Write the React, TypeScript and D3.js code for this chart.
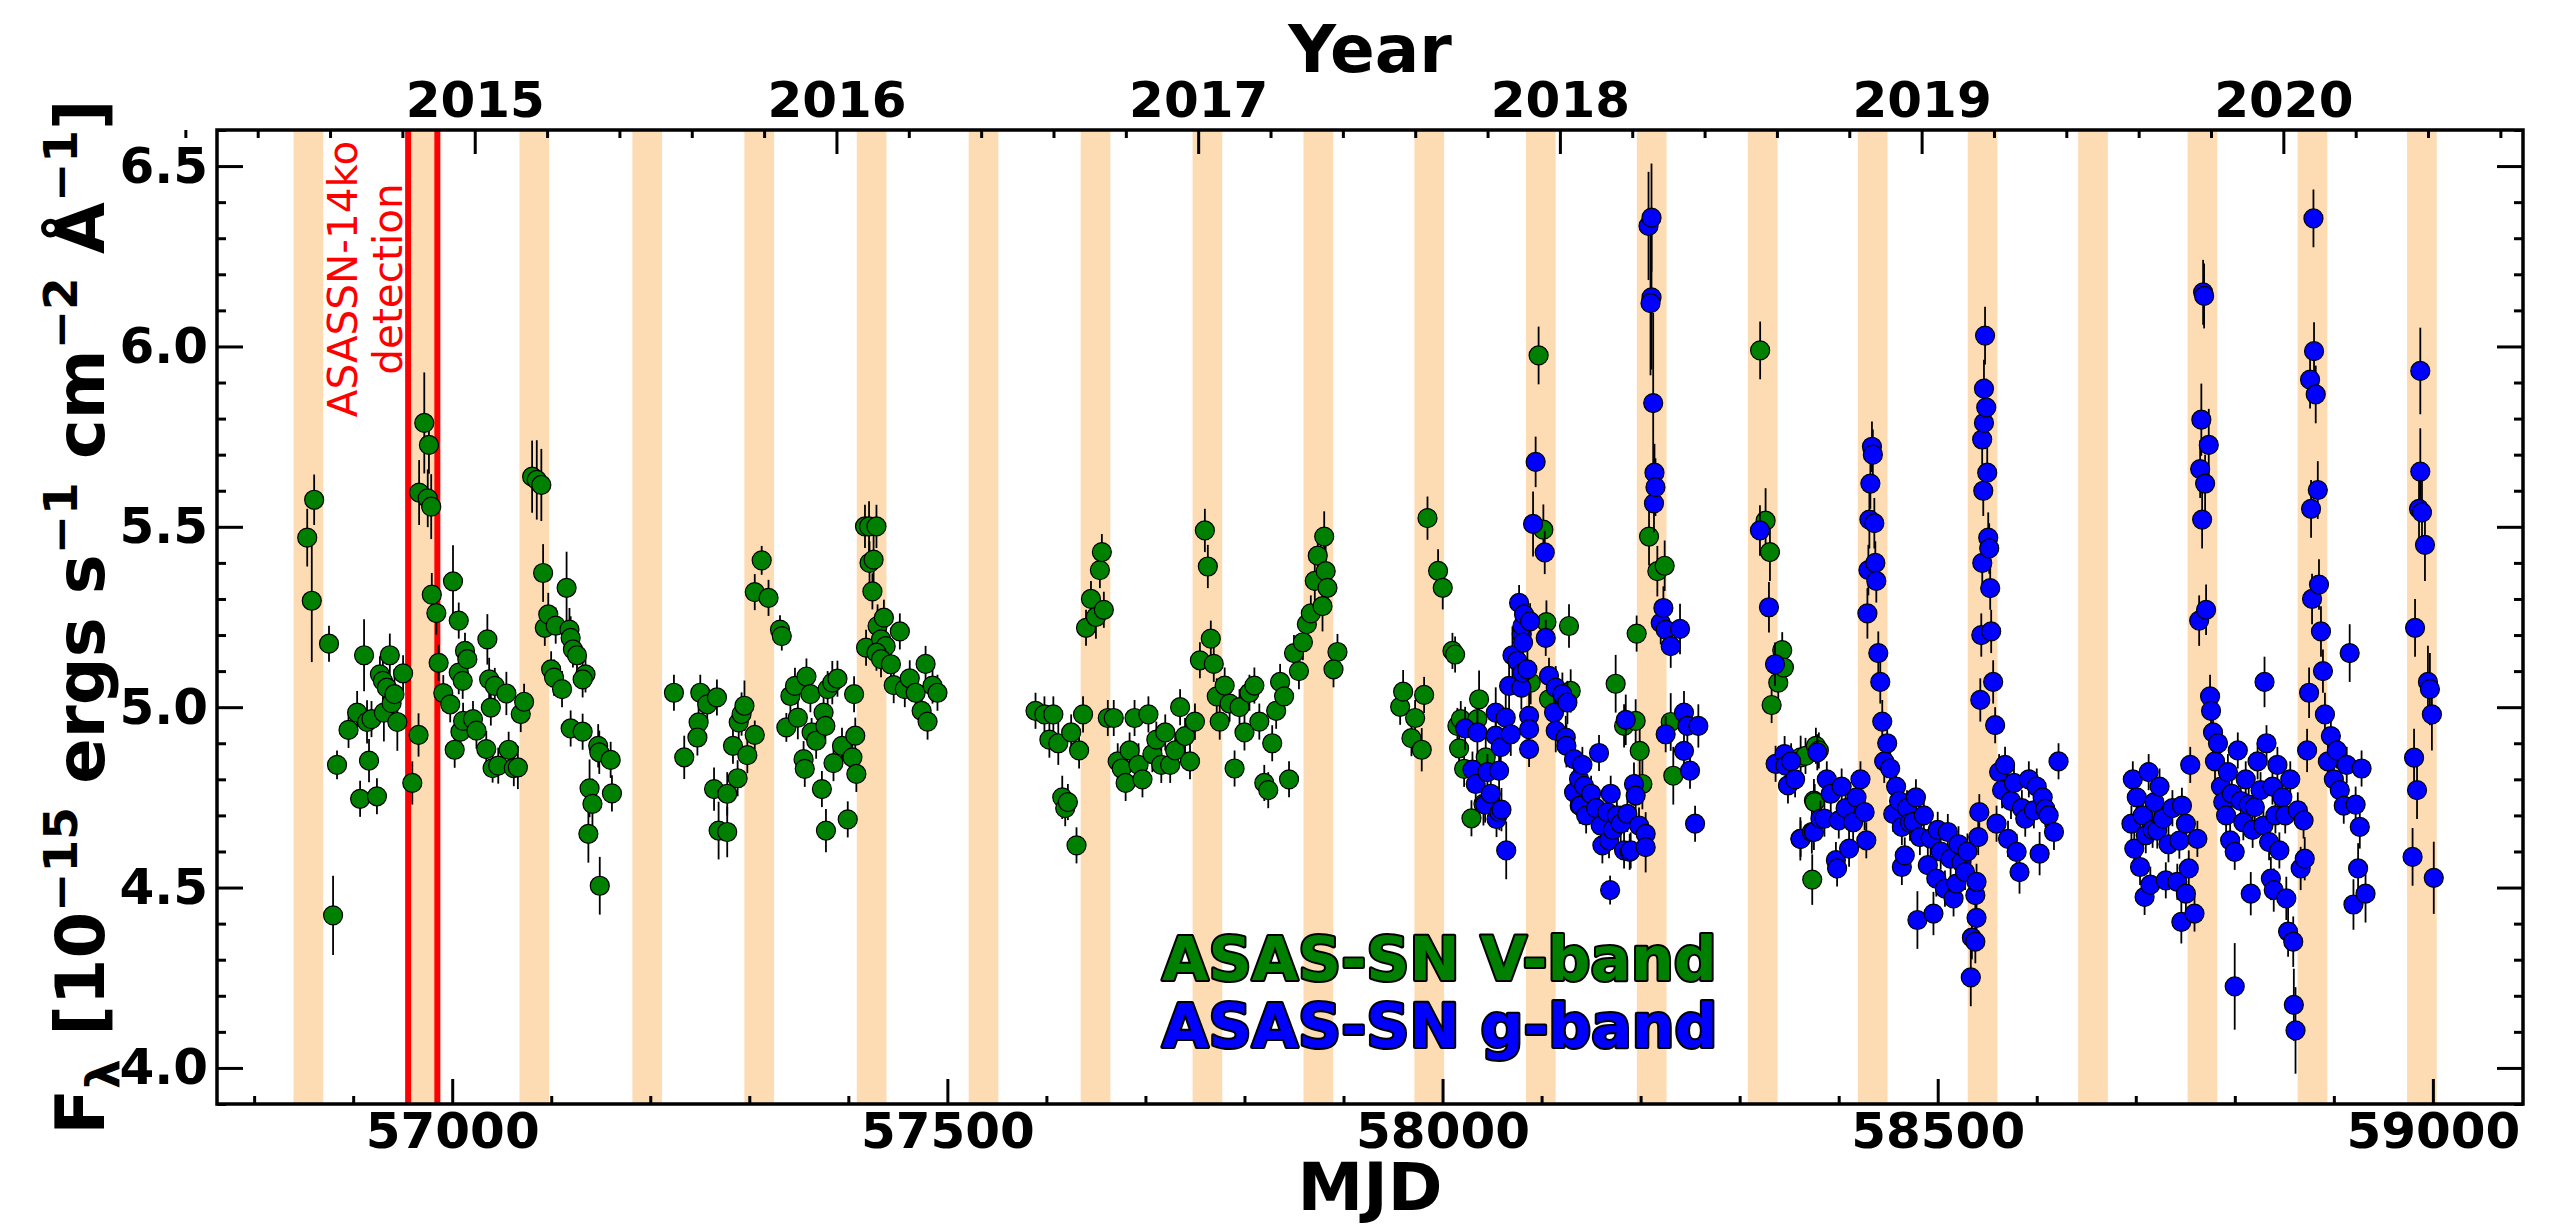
import React, { useRef, useEffect } from "react";
import * as d3 from "d3";

const W = 2566;
const H = 1226;
const plot = { left: 217, right: 2523, top: 130, bottom: 1104 };

// axis ranges
const mjdRange = [56762.5, 59091];
const fluxRange = [3.9, 6.6];

const mjdMajor = [57000, 57500, 58000, 58500, 59000];
const fluxMajor = [4.0, 4.5, 5.0, 5.5, 6.0, 6.5];
const years = [2015, 2016, 2017, 2018, 2019, 2020];

// shaded windows (predicted outbursts), centre MJD
const bandCenters = [
	56854.8, 56968.8, 57082.9, 57196.9, 57310.0, 57423.5, 57536.5, 57649.6, 57762.6, 57874.6,
	57986.6, 58099.2, 58211.2, 58323.3, 58434.3, 58545.3, 58656.8, 58767.3, 58878.4, 58988.9,
];
const bandWidth = 30;

// ASASSN-14ko detection window
const detectionLines = [56955.5, 56985];

// [MJD, flux, error]
const vBand: [number, number, number][] = [
	[56853.6, 5.47, 0.08], [56860.6, 5.575, 0.07], [56858.2, 5.295, 0.17], [56875.6, 5.176, 0.05],
	[56879.7, 4.423, 0.11], [56883.7, 4.84, 0.04], [56895.3, 4.937, 0.05], [56904, 4.985, 0.06],
	[56907, 4.746, 0.05], [56911, 5.144, 0.1], [56914, 4.959, 0.06], [56916, 4.852, 0.06],
	[56918.5, 4.967, 0.05], [56924, 4.753, 0.05], [56927, 5.091, 0.05], [56930, 5.073, 0.06],
	[56931, 4.985, 0.08], [56934, 5.054, 0.05], [56937, 5.144, 0.06], [56938.8, 5.011, 0.07],
	[56941.7, 5.036, 0.07], [56944.6, 4.959, 0.08], [56950.4, 5.094, 0.05], [56959.7, 4.79, 0.06],
	[56966, 4.923, 0.06], [56966.6, 5.595, 0.09], [56971.8, 5.788, 0.14], [56975.3, 5.579, 0.08],
	[56976.5, 5.727, 0.08], [56978.8, 5.556, 0.09], [56979.4, 5.312, 0.06], [56984, 5.261, 0.06],
	[56986.3, 5.123, 0.05], [56991, 5.039, 0.05], [56998, 5.008, 0.05], [57000.8, 5.349, 0.1],
	[57002.5, 4.882, 0.05], [57006.6, 5.24, 0.05], [57008.3, 4.932, 0.05], [57006.6, 5.096, 0.06],
	[57010.6, 5.073, 0.05], [57012.9, 5.156, 0.05], [57015.3, 5.133, 0.05], [57011, 4.962, 0.05],
	[57021, 4.967, 0.05], [57024.5, 4.935, 0.05], [57034.4, 4.884, 0.05], [57035.5, 5.188, 0.07],
	[57037.3, 5.077, 0.06], [57039, 4.999, 0.05], [57040.8, 4.831, 0.04], [57043, 5.059, 0.05],
	[57046.5, 4.838, 0.05], [57054.7, 5.038, 0.06], [57057, 4.882, 0.05], [57062.2, 4.831, 0.05],
	[57066.3, 4.833, 0.06], [57069.2, 4.981, 0.05], [57072.6, 5.015, 0.05], [57080.7, 5.639, 0.1],
	[57085.4, 5.63, 0.11], [57090, 5.616, 0.1], [57091.8, 5.372, 0.08], [57093.5, 5.22, 0.05],
	[57097, 5.257, 0.06], [57099.9, 5.105, 0.05], [57102.8, 5.082, 0.05], [57104.5, 5.226, 0.05],
	[57110.9, 5.05, 0.05], [57115.5, 5.331, 0.1], [57118.4, 5.215, 0.06], [57119.6, 5.192, 0.06],
	[57121.9, 5.16, 0.05], [57126, 5.144, 0.05], [57119.6, 4.941, 0.05], [57131.7, 4.932, 0.05],
	[57134.6, 5.091, 0.05], [57131.7, 5.077, 0.05], [57147.4, 4.893, 0.06], [57148.5, 4.875, 0.06],
	[57138.7, 4.775, 0.08], [57141.6, 4.732, 0.07], [57137.5, 4.649, 0.08], [57160, 4.854, 0.05],
	[57161.3, 4.761, 0.05], [57149, 4.505, 0.08],
	[57223.9, 5.04, 0.05], [57234.3, 4.861, 0.06], [57248.8, 4.958, 0.06], [57250.5, 5.04, 0.05],
	[57247.6, 4.916, 0.05], [57257.5, 5.008, 0.05], [57267.3, 5.027, 0.05], [57264.4, 4.773, 0.06],
	[57269, 4.658, 0.08], [57277.7, 4.654, 0.07], [57277.7, 4.76, 0.06], [57283.5, 4.893, 0.05],
	[57288.2, 4.803, 0.05], [57289.3, 4.958, 0.05], [57292.2, 4.981, 0.06], [57295.1, 5.004, 0.07],
	[57298, 4.867, 0.05], [57305.5, 4.923, 0.04], [57305.5, 5.319, 0.05], [57312.5, 5.407, 0.04],
	[57319.4, 5.303, 0.05], [57331, 5.215, 0.04], [57332.8, 5.197, 0.04], [57337.4, 4.944, 0.04],
	[57341.5, 5.031, 0.05], [57346.1, 5.059, 0.05], [57349, 4.971, 0.06], [57354.8, 4.856, 0.05],
	[57357.7, 5.085, 0.05], [57356, 4.829, 0.05], [57361.7, 5.036, 0.05], [57362.9, 4.93, 0.04],
	[57367.5, 4.907, 0.05], [57373.3, 4.773, 0.05], [57375, 4.985, 0.06], [57376.8, 4.948, 0.05],
	[57377.4, 4.658, 0.06], [57379.1, 5.05, 0.05], [57383.8, 5.068, 0.06], [57385, 4.845, 0.05],
	[57389, 5.079, 0.05], [57393.6, 4.893, 0.05], [57399.4, 4.689, 0.05], [57404.1, 4.861, 0.05],
	[57405.8, 5.036, 0.05], [57408.1, 4.815, 0.05], [57407, 4.921, 0.05], [57416.8, 5.501, 0.06],
	[57420.9, 5.501, 0.07], [57428.4, 5.501, 0.06], [57421.4, 5.4, 0.06], [57425.5, 5.409, 0.07],
	[57424.3, 5.321, 0.05], [57417.9, 5.165, 0.05], [57429.5, 5.225, 0.06], [57435.9, 5.248, 0.05],
	[57433, 5.188, 0.06], [57437.7, 5.169, 0.06], [57428.4, 5.151, 0.05], [57433, 5.133, 0.05],
	[57443, 5.119, 0.05], [57445.8, 5.061, 0.05], [57452, 5.21, 0.05], [57457, 5.05, 0.05],
	[57462, 5.08, 0.05], [57468, 5.04, 0.04], [57474, 4.99, 0.05], [57478, 5.12, 0.05],
	[57480, 4.96, 0.05], [57485, 5.06, 0.05], [57490, 5.04, 0.05],
	[57589, 4.99, 0.05], [57598, 4.98, 0.05], [57603, 4.91, 0.05], [57607, 4.98, 0.05],
	[57612, 4.9, 0.06], [57616, 4.75, 0.06], [57619, 4.72, 0.05], [57621.7, 4.737, 0.05],
	[57630.4, 4.617, 0.05], [57625, 4.93, 0.05], [57633, 4.88, 0.05], [57637, 4.98, 0.05],
	[57640, 5.22, 0.05], [57645, 5.3, 0.05], [57650, 5.25, 0.06], [57654, 5.38, 0.05],
	[57656, 5.43, 0.05], [57658, 5.27, 0.05], [57662, 4.97, 0.05], [57668, 4.97, 0.05],
	[57672, 4.85, 0.05], [57676, 4.83, 0.05], [57680, 4.79, 0.05], [57684, 4.88, 0.05],
	[57689, 4.97, 0.05], [57693, 4.84, 0.06], [57697, 4.8, 0.05], [57703, 4.98, 0.05],
	[57707, 4.87, 0.05], [57711, 4.91, 0.05], [57716, 4.84, 0.05], [57720, 4.93, 0.05],
	[57725, 4.84, 0.05], [57730, 4.88, 0.05], [57735, 5.0, 0.05], [57740, 4.92, 0.05],
	[57745, 4.85, 0.05], [57750, 4.96, 0.05], [57755, 5.13, 0.05], [57760, 5.49, 0.06],
	[57763, 5.39, 0.06], [57766, 5.19, 0.05], [57769, 5.12, 0.05], [57772, 5.03, 0.05],
	[57775, 4.96, 0.05], [57780, 5.06, 0.05], [57785, 5.01, 0.05], [57790, 4.83, 0.05],
	[57795, 5.0, 0.05], [57800, 4.93, 0.05], [57805, 5.04, 0.05], [57810, 5.06, 0.05],
	[57815, 4.96, 0.05], [57820, 4.79, 0.05], [57824, 4.77, 0.05], [57828, 4.9, 0.05],
	[57832, 4.99, 0.05], [57836, 5.07, 0.05], [57840, 5.03, 0.05], [57845, 4.8, 0.05],
	[57850, 5.15, 0.05], [57855, 5.1, 0.05], [57859, 5.18, 0.05], [57863, 5.23, 0.05],
	[57867, 5.26, 0.05], [57871, 5.35, 0.06], [57874, 5.42, 0.06], [57880.5, 5.473, 0.07],
	[57882, 5.377, 0.07], [57883.8, 5.331, 0.06], [57878.8, 5.28, 0.07], [57893.9, 5.153, 0.05],
	[57889.9, 5.105, 0.05],
	[57957.2, 5.001, 0.05], [57960.2, 5.043, 0.06], [57968.6, 4.914, 0.05], [57972.3, 4.97, 0.05],
	[57979, 4.882, 0.06], [57981.4, 5.034, 0.05], [57984.8, 5.524, 0.06], [57995.5, 5.378, 0.06],
	[58000.2, 5.331, 0.06], [58010, 5.156, 0.05], [58012.7, 5.146, 0.05], [58015, 4.948, 0.05],
	[58018.4, 4.967, 0.05], [58016.7, 4.886, 0.05], [58021.8, 4.829, 0.05], [58029.2, 4.692, 0.05],
	[58036.9, 5.022, 0.08], [58035.2, 4.967, 0.06], [58043.6, 4.861, 0.06], [58041.3, 4.732, 0.06],
	[58089, 5.068, 0.06], [58097, 5.975, 0.08], [58101.8, 5.492, 0.07], [58104.9, 5.236, 0.06],
	[58107.5, 5.022, 0.06], [58127.7, 5.225, 0.06], [58129.4, 5.045, 0.06], [58174.8, 5.065, 0.08],
	[58183.3, 4.948, 0.06], [58195, 4.962, 0.06], [58196, 5.204, 0.05], [58199.1, 4.879, 0.07],
	[58201.8, 4.787, 0.07], [58208.5, 5.473, 0.08], [58216.9, 5.377, 0.07], [58224.3, 5.392, 0.07],
	[58230.4, 4.959, 0.08], [58233, 4.81, 0.08],
	[58320.7, 5.989, 0.08], [58326.2, 5.517, 0.09], [58330.6, 5.43, 0.08], [58332.3, 5.006, 0.05],
	[58339, 5.068, 0.05], [58343, 5.158, 0.05], [58344.7, 5.11, 0.05], [58361.6, 4.861, 0.06],
	[58366.5, 4.865, 0.05], [58373.3, 4.522, 0.07], [58375, 4.741, 0.06], [58375.8, 4.737, 0.05],
	[58377, 4.893, 0.05], [58380, 4.88, 0.05],
];

const gBand: [number, number, number][] = [
	[58022.8, 4.941, 0.06], [58030.2, 4.827, 0.05], [58033.5, 4.787, 0.05], [58035.2, 4.93, 0.06],
	[58043, 4.73, 0.05], [58045.3, 4.82, 0.05], [58048.7, 4.76, 0.05], [58053.7, 4.985, 0.07],
	[58053.7, 4.921, 0.05], [58054.5, 4.69, 0.05], [58057.1, 4.824, 0.06], [58057.4, 4.709, 0.05],
	[58058.8, 4.889, 0.05], [58059.5, 4.716, 0.06], [58063.8, 4.971, 0.07], [58064.3, 4.603, 0.08],
	[58067.2, 5.059, 0.08], [58068.9, 4.925, 0.06], [58070.6, 5.144, 0.08], [58075.6, 5.128, 0.06],
	[58077.3, 5.289, 0.05], [58079.6, 5.054, 0.06], [58080, 5.202, 0.05], [58080.7, 5.225, 0.05],
	[58080.7, 5.096, 0.05], [58081.3, 5.179, 0.05], [58082.3, 5.257, 0.05], [58085.7, 5.105, 0.06],
	[58087.4, 4.976, 0.07], [58087.4, 4.939, 0.06], [58087.4, 4.884, 0.05], [58088.4, 5.238, 0.05],
	[58091.4, 5.508, 0.09], [58094, 5.68, 0.07], [58103.2, 5.429, 0.06], [58104.2, 5.192, 0.05],
	[58107.5, 5.087, 0.05], [58112.6, 4.985, 0.06], [58114.3, 5.054, 0.06], [58114.3, 4.935, 0.06],
	[58121, 5.036, 0.06], [58124.4, 4.916, 0.06], [58125.1, 4.893, 0.06], [58126.1, 5.013, 0.06],
	[58132.8, 4.856, 0.06], [58132.8, 4.764, 0.05], [58137.8, 4.801, 0.05], [58138.5, 4.727, 0.05],
	[58139.5, 4.727, 0.05], [58141.2, 4.84, 0.05], [58142.9, 4.782, 0.05], [58145, 4.7, 0.05],
	[58150, 4.76, 0.05], [58155, 4.72, 0.05], [58158, 4.873, 0.05], [58159.7, 4.672, 0.05],
	[58161.4, 4.617, 0.05], [58166.4, 4.709, 0.05], [58168.1, 4.631, 0.05], [58169.2, 4.493, 0.04],
	[58169.8, 4.76, 0.05], [58172, 4.66, 0.05], [58176, 4.7, 0.05], [58179.9, 4.677, 0.05],
	[58183.3, 4.603, 0.05], [58185, 4.965, 0.07], [58186.6, 4.704, 0.05], [58189, 4.599, 0.05],
	[58190, 4.603, 0.05], [58193.3, 4.787, 0.06], [58195, 4.755, 0.06], [58198.4, 4.672, 0.05],
	[58205.1, 4.649, 0.06], [58205.1, 4.612, 0.07], [58208, 6.334, 0.15], [58211, 6.357, 0.15],
	[58211, 6.136, 0.2], [58210, 6.12, 0.2], [58212.7, 5.843, 0.25], [58213.5, 5.565, 0.08],
	[58214, 5.65, 0.08], [58215, 5.61, 0.08], [58220.3, 5.234, 0.06], [58223, 5.275, 0.06],
	[58225.3, 5.215, 0.06], [58225.3, 4.925, 0.05], [58230.4, 5.169, 0.06], [58239.8, 5.217, 0.07],
	[58243.8, 4.985, 0.06], [58243.8, 4.879, 0.06], [58247.2, 4.948, 0.06], [58249.9, 4.824, 0.05],
	[58255, 4.677, 0.05], [58258.3, 4.948, 0.06],
	[58320.5, 5.49, 0.07], [58329.6, 5.277, 0.07], [58335.7, 5.119, 0.06], [58336.3, 4.843, 0.05],
	[58345.4, 4.87, 0.05], [58346.4, 4.838, 0.05], [58348.8, 4.783, 0.05], [58352, 4.85, 0.05],
	[58356, 4.8, 0.05], [58361.3, 4.635, 0.06], [58361.6, 4.635, 0.05], [58372.9, 4.654, 0.06],
	[58375, 4.654, 0.05], [58378.4, 4.875, 0.05], [58381.6, 4.691, 0.05], [58385.6, 4.691, 0.05],
	[58388, 4.8, 0.05], [58392, 4.76, 0.05], [58397.2, 4.576, 0.05], [58398.4, 4.553, 0.05],
	[58400.1, 4.686, 0.05], [58403, 4.78, 0.05], [58407, 4.72, 0.05], [58410.5, 4.608, 0.05],
	[58414.6, 4.681, 0.05], [58418, 4.75, 0.05], [58422, 4.8, 0.05], [58426.2, 4.709, 0.05],
	[58427.9, 4.631, 0.05], [58429, 5.26, 0.07], [58430, 5.38, 0.07], [58431, 5.52, 0.08],
	[58432, 5.62, 0.07], [58433.6, 5.722, 0.07], [58434.5, 5.7, 0.07], [58436, 5.51, 0.07],
	[58437, 5.4, 0.06], [58438, 5.35, 0.06], [58440, 5.15, 0.06], [58442, 5.07, 0.06],
	[58444, 4.96, 0.06], [58446, 4.85, 0.06], [58449, 4.9, 0.05], [58452, 4.83, 0.05],
	[58455.1, 4.704, 0.05], [58458, 4.78, 0.05], [58461, 4.74, 0.05], [58463.8, 4.668, 0.05],
	[58463.8, 4.557, 0.05], [58466.7, 4.589, 0.05], [58469, 4.72, 0.05], [58472, 4.68, 0.05],
	[58475.4, 4.682, 0.05], [58478, 4.75, 0.05], [58479.5, 4.41, 0.08], [58482, 4.64, 0.05],
	[58486, 4.7, 0.05], [58490, 4.562, 0.05], [58492.8, 4.636, 0.05], [58495.7, 4.428, 0.06],
	[58498.6, 4.525, 0.05], [58500, 4.66, 0.05], [58503, 4.6, 0.05], [58507.3, 4.497, 0.05],
	[58510.2, 4.654, 0.05], [58513, 4.58, 0.05], [58516, 4.47, 0.05], [58518.9, 4.511, 0.05],
	[58521, 4.62, 0.05], [58524, 4.57, 0.05], [58527.6, 4.543, 0.05], [58530, 4.6, 0.05],
	[58533.4, 4.251, 0.08], [58534.5, 4.361, 0.06], [58538, 4.35, 0.06], [58538, 4.479, 0.05],
	[58539.2, 4.516, 0.05], [58539.2, 4.416, 0.06], [58540.9, 4.64, 0.05], [58542, 4.709, 0.05],
	[58543, 5.02, 0.06], [58544, 5.2, 0.06], [58544.9, 5.742, 0.07], [58545, 5.4, 0.06],
	[58546, 5.6, 0.07], [58546.7, 5.788, 0.07], [58546.7, 5.883, 0.08], [58547.8, 6.03, 0.08],
	[58549, 5.831, 0.08], [58550, 5.65, 0.07], [58551, 5.47, 0.07], [58552, 5.44, 0.07],
	[58553, 5.33, 0.06], [58554, 5.21, 0.06], [58556, 5.07, 0.06], [58558, 4.95, 0.05],
	[58559.4, 4.677, 0.05], [58562, 4.82, 0.05], [58565, 4.77, 0.05], [58568, 4.84, 0.05],
	[58571, 4.635, 0.05], [58574, 4.74, 0.05], [58577, 4.79, 0.05], [58579.7, 4.599, 0.05],
	[58582.6, 4.543, 0.06], [58585, 4.72, 0.05], [58588.4, 4.691, 0.05], [58592, 4.8, 0.05],
	[58597.1, 4.714, 0.05], [58600, 4.78, 0.05], [58602.9, 4.594, 0.06], [58606, 4.75, 0.05],
	[58608.7, 4.718, 0.05], [58612, 4.7, 0.05], [58617.4, 4.654, 0.05], [58622, 4.85, 0.05],
	[58695.6, 4.677, 0.05], [58697, 4.8, 0.05], [58698.5, 4.608, 0.05], [58701, 4.75, 0.05],
	[58704.3, 4.557, 0.05], [58707, 4.7, 0.05], [58708.9, 4.474, 0.05], [58710.1, 4.645, 0.05],
	[58713, 4.82, 0.05], [58714.7, 4.508, 0.05], [58717, 4.66, 0.05], [58718.8, 4.737, 0.05],
	[58721.7, 4.658, 0.05], [58724, 4.78, 0.05], [58727.4, 4.691, 0.05], [58730.3, 4.52, 0.05],
	[58733, 4.62, 0.05], [58737, 4.72, 0.05], [58741.9, 4.516, 0.05], [58744, 4.63, 0.05],
	[58746, 4.405, 0.06], [58746.6, 4.727, 0.05], [58750.6, 4.677, 0.05], [58750.6, 4.483, 0.05],
	[58753.5, 4.553, 0.05], [58755, 4.84, 0.05], [58759.3, 4.428, 0.05], [58762.2, 4.635, 0.05],
	[58764, 5.24, 0.07], [58765, 5.66, 0.08], [58766.2, 5.797, 0.1], [58767, 5.52, 0.08],
	[58768, 6.15, 0.09], [58769, 6.14, 0.09], [58770, 5.62, 0.08], [58771, 5.27, 0.07],
	[58773.7, 5.727, 0.1], [58775, 5.03, 0.06], [58776, 4.99, 0.06], [58778, 4.93, 0.06],
	[58780, 4.85, 0.06], [58783, 4.9, 0.05], [58786, 4.78, 0.05], [58788.3, 4.737, 0.05],
	[58791.2, 4.7, 0.05], [58793, 4.82, 0.05], [58795.3, 4.631, 0.05], [58797, 4.76, 0.05],
	[58799.9, 4.599, 0.05], [58799.9, 4.226, 0.12], [58803, 4.88, 0.05], [58806, 4.74, 0.05],
	[58808.6, 4.681, 0.05], [58811, 4.8, 0.05], [58814, 4.73, 0.05], [58816.1, 4.483, 0.06],
	[58818, 4.66, 0.05], [58820.2, 4.723, 0.05], [58823, 4.85, 0.05], [58826, 4.77, 0.05],
	[58828.9, 4.672, 0.05], [58830, 5.07, 0.07], [58832, 4.9, 0.05], [58834.6, 4.626, 0.05],
	[58836.4, 4.525, 0.06], [58838, 4.78, 0.05], [58839.3, 4.493, 0.06], [58841, 4.7, 0.05],
	[58843, 4.84, 0.05], [58845, 4.603, 0.05], [58848, 4.75, 0.05], [58850.9, 4.7, 0.05],
	[58852, 4.47, 0.06], [58853.8, 4.378, 0.07], [58856, 4.8, 0.05], [58859, 4.35, 0.07],
	[58859.6, 4.175, 0.1], [58861.3, 4.104, 0.12], [58863.6, 4.714, 0.05], [58866.5, 4.553, 0.06],
	[58869.4, 4.686, 0.05], [58870.6, 4.58, 0.06], [58873, 4.88, 0.06], [58875, 5.04, 0.07],
	[58876, 5.908, 0.08], [58877, 5.55, 0.08], [58878, 5.3, 0.07], [58879.4, 6.355, 0.08],
	[58880, 5.987, 0.08], [58881.7, 5.867, 0.08], [58883.8, 5.602, 0.08], [58885, 5.34, 0.07],
	[58887, 5.21, 0.07], [58889, 5.1, 0.06], [58891, 4.98, 0.06], [58894, 4.85, 0.06],
	[58897, 4.92, 0.05], [58900, 4.8, 0.05], [58903, 4.88, 0.05], [58906, 4.77, 0.05],
	[58910, 4.727, 0.05], [58913, 4.84, 0.05], [58916, 5.15, 0.08], [58919.8, 4.453, 0.07],
	[58922, 4.73, 0.05], [58924.5, 4.553, 0.07], [58926.2, 4.668, 0.06], [58928, 4.83, 0.05],
	[58932, 4.483, 0.08], [58979.5, 4.585, 0.08], [58981, 4.86, 0.08], [58982, 5.22, 0.08],
	[58984, 4.77, 0.08], [58986, 5.55, 0.1], [58987.3, 5.932, 0.12], [58987.3, 5.653, 0.12],
	[58989, 5.54, 0.1], [58992, 5.45, 0.1], [58995, 5.07, 0.1], [58997, 5.05, 0.1],
	[58999, 4.98, 0.1], [59000.9, 4.527, 0.1],
];

const FONT = "'DejaVu Sans', sans-serif";
const yearToMjd = (yr: number) => 51544 + (yr - 2000) * 365.25;

const LightCurve: React.FC = () => {
	const svgRef = useRef<SVGSVGElement | null>(null);

	useEffect(() => {
		document.body.style.margin = "0";
		document.body.style.overflow = "hidden";
		if (!svgRef.current) return;

		const svg = d3.select(svgRef.current);
		svg.selectAll("*").remove();

		const x = d3.scaleLinear().domain(mjdRange).range([plot.left, plot.right]);
		const y = d3.scaleLinear().domain(fluxRange).range([plot.bottom, plot.top]);

		svg.append("rect").attr("width", W).attr("height", H).attr("fill", "white");

		svg.append("defs")
			.append("clipPath")
			.attr("id", "plotclip")
			.append("rect")
			.attr("x", plot.left)
			.attr("y", plot.top)
			.attr("width", plot.right - plot.left)
			.attr("height", plot.bottom - plot.top);

		const inner = svg.append("g").attr("clip-path", "url(#plotclip)");

		// shaded windows
		inner.append("g")
			.selectAll("rect")
			.data(bandCenters)
			.enter()
			.append("rect")
			.attr("x", (d) => x(d - bandWidth / 2))
			.attr("width", (d) => x(d + bandWidth / 2) - x(d - bandWidth / 2))
			.attr("y", plot.top)
			.attr("height", plot.bottom - plot.top)
			.attr("fill", "#FDDCB4");

		// detection lines
		inner.append("g")
			.selectAll("line")
			.data(detectionLines)
			.enter()
			.append("line")
			.attr("x1", (d) => x(d))
			.attr("x2", (d) => x(d))
			.attr("y1", plot.top)
			.attr("y2", plot.bottom)
			.attr("stroke", "#FF0000")
			.attr("stroke-width", 6);

		const drawSeries = (data: [number, number, number][], color: string) => {
			const g = inner.append("g");
			g.selectAll("line")
				.data(data)
				.enter()
				.append("line")
				.attr("x1", (d) => x(d[0]))
				.attr("x2", (d) => x(d[0]))
				.attr("y1", (d) => y(d[1] - d[2]))
				.attr("y2", (d) => y(d[1] + d[2]))
				.attr("stroke", "black")
				.attr("stroke-width", 1.8);
			g.selectAll("circle")
				.data(data)
				.enter()
				.append("circle")
				.attr("cx", (d) => x(d[0]))
				.attr("cy", (d) => y(d[1]))
				.attr("r", 9.5)
				.attr("fill", color)
				.attr("stroke", "black")
				.attr("stroke-width", 1.2);
		};
		drawSeries(vBand, "#008000");
		drawSeries(gBand, "#0000FF");

		// axes (ticks inward)
		const styleAxis = (g: d3.Selection<SVGGElement, unknown, null, undefined>) => {
			g.select(".domain").remove();
			g.selectAll(".tick line").attr("stroke", "black").attr("stroke-width", 3);
			g.attr("font-family", FONT).attr("font-size", 50).attr("font-weight", "bold");
			g.selectAll(".tick text").attr("fill", "black");
		};

		const mjdMinor = d3.range(56800, 59100, 100).filter((v) => v % 500 !== 0);
		const fluxMinor = d3
			.range(39, 67, 1)
			.filter((v) => v % 5 !== 0)
			.map((v) => v / 10);
		const yearMinor = d3
			.range(20142, 20210, 2)
			.filter((v) => v % 10 !== 0)
			.map((v) => yearToMjd(v / 10));

		svg.append("g")
			.attr("transform", `translate(0,${plot.bottom})`)
			.call(d3.axisBottom(x).tickValues(mjdMajor).tickSize(-25).tickPadding(8).tickFormat(d3.format("d")))
			.call(styleAxis);
		svg.append("g")
			.attr("transform", `translate(0,${plot.bottom})`)
			.call(d3.axisBottom(x).tickValues(mjdMinor).tickSize(-8).tickFormat(() => ""))
			.call(styleAxis);

		svg.append("g")
			.attr("transform", `translate(0,${plot.top})`)
			.call(
				d3
					.axisTop(x)
					.tickValues(years.map(yearToMjd))
					.tickSize(-24)
					.tickPadding(13)
					.tickFormat((d, i) => String(years[i]))
			)
			.call(styleAxis);
		svg.append("g")
			.attr("transform", `translate(0,${plot.top})`)
			.call(d3.axisTop(x).tickValues(yearMinor).tickSize(-8).tickFormat(() => ""))
			.call(styleAxis);

		svg.append("g")
			.attr("transform", `translate(${plot.left},0)`)
			.call(d3.axisLeft(y).tickValues(fluxMajor).tickSize(-26).tickPadding(9).tickFormat(d3.format(".1f")))
			.call(styleAxis);
		svg.append("g")
			.attr("transform", `translate(${plot.left},0)`)
			.call(d3.axisLeft(y).tickValues(fluxMinor).tickSize(-9).tickFormat(() => ""))
			.call(styleAxis);
		svg.append("g")
			.attr("transform", `translate(${plot.right},0)`)
			.call(d3.axisRight(y).tickValues(fluxMajor).tickSize(-26).tickFormat(() => ""))
			.call(styleAxis);
		svg.append("g")
			.attr("transform", `translate(${plot.right},0)`)
			.call(d3.axisRight(y).tickValues(fluxMinor).tickSize(-9).tickFormat(() => ""))
			.call(styleAxis);

		// frame
		svg.append("rect")
			.attr("x", plot.left)
			.attr("y", plot.top)
			.attr("width", plot.right - plot.left)
			.attr("height", plot.bottom - plot.top)
			.attr("fill", "none")
			.attr("stroke", "black")
			.attr("stroke-width", 3.5);

		// detection annotation
		const note = svg
			.append("text")
			.attr("transform", "translate(357,279) rotate(-90)")
			.attr("text-anchor", "middle")
			.attr("font-family", FONT)
			.attr("font-size", 40.5)
			.attr("fill", "#FF0000");
		note.append("tspan").attr("x", 0).attr("y", 0).text("ASASSN-14ko");
		note.append("tspan").attr("x", 0).attr("y", 45).text("detection");

		// legend text
		const legend = svg
			.append("g")
			.attr("font-family", FONT)
			.attr("font-size", 60)
			.attr("font-weight", "bold")
			.attr("stroke", "black")
			.attr("stroke-width", 4)
			.attr("paint-order", "stroke")
			.attr("stroke-linejoin", "round");
		legend.append("text").attr("x", 1162).attr("y", 980).attr("fill", "#008000").text("ASAS-SN V-band");
		legend.append("text").attr("x", 1162).attr("y", 1047).attr("fill", "#0000FF").text("ASAS-SN g-band");

		// axis titles
		const cx = (plot.left + plot.right) / 2;
		svg.append("text")
			.attr("x", cx)
			.attr("y", 72)
			.attr("text-anchor", "middle")
			.attr("font-family", FONT)
			.attr("font-size", 66)
			.attr("font-weight", "bold")
			.text("Year");
		svg.append("text")
			.attr("x", cx)
			.attr("y", 1210)
			.attr("text-anchor", "middle")
			.attr("font-family", FONT)
			.attr("font-size", 66)
			.attr("font-weight", "bold")
			.text("MJD");

		const ylab = svg
			.append("text")
			.attr("transform", `translate(104,${(plot.top + plot.bottom) / 2}) rotate(-90)`)
			.attr("text-anchor", "middle")
			.attr("font-family", FONT)
			.attr("font-size", 67)
			.attr("font-weight", "bold")
			.style("white-space", "pre");
		const parts: [string, number, number][] = [
			["F", 67, 0],
			["λ", 47, 15],
			[" [10", 67, -15],
			["−15", 47, -27],
			[" ergs s", 67, 27],
			["−1", 47, -27],
			[" cm", 67, 27],
			["−2", 47, -27],
			[" Å", 67, 27],
			["−1", 47, -27],
			["]", 67, 27],
		];
		parts.forEach(([t, fs, dy]) => {
			ylab.append("tspan").attr("font-size", fs).attr("dy", dy).text(t);
		});
	}, []);

	return <svg ref={svgRef} width={W} height={H} style={{ display: "block" }} />;
};

export default function App() {
	return <LightCurve />;
}
